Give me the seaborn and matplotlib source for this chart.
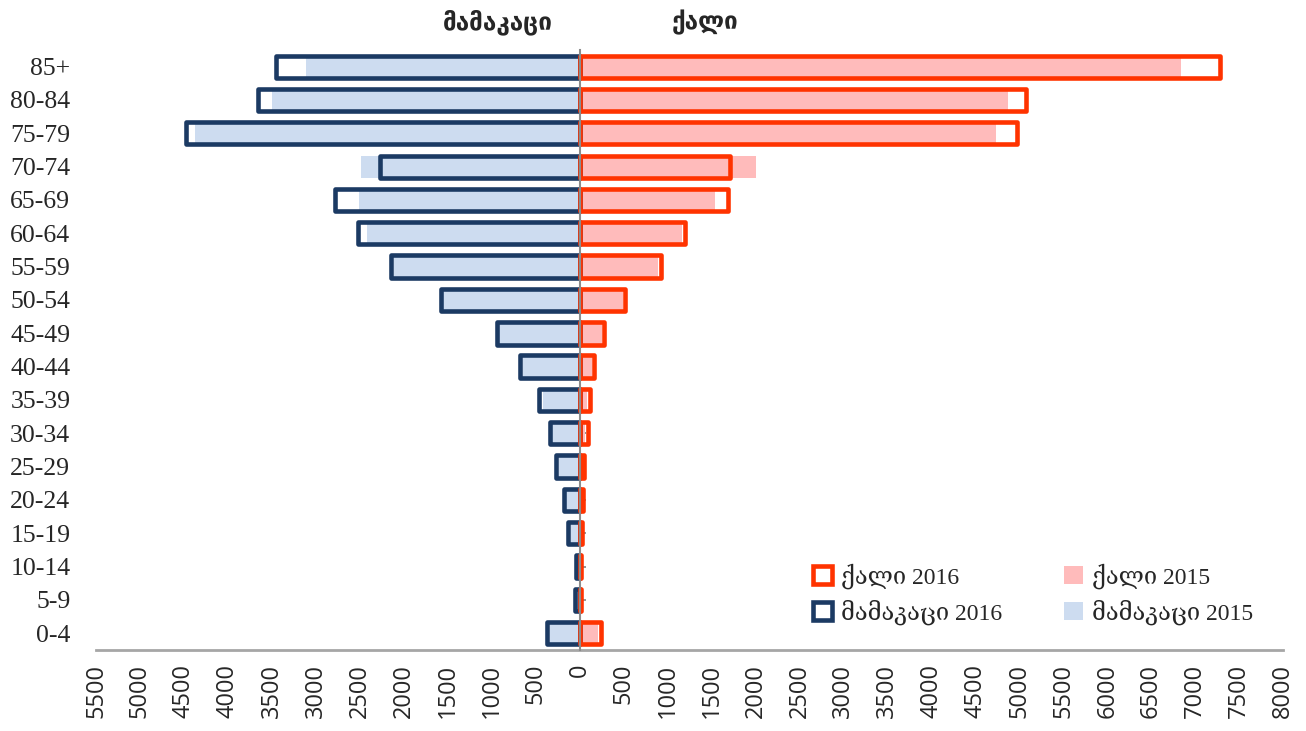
import numpy as np
import pandas as pd
import matplotlib
matplotlib.use("Agg")
import matplotlib.pyplot as plt
from matplotlib.patches import Patch
import seaborn as sns

age_groups = ['85+', '80-84', '75-79', '70-74', '65-69', '60-64', '55-59', '50-54',
              '45-49', '40-44', '35-39', '30-34', '25-29', '20-24', '15-19', '10-14',
              '5-9', '0-4']
male_2016 = [3453, 3657, 4476, 2270, 2783, 2521, 2146, 1576, 939, 678, 458, 340, 268, 177, 128, 41, 49, 367]
male_2015 = [3111, 3497, 4374, 2486, 2509, 2418, 2111, 1554, 916, 644, 420, 310, 238, 151, 98, 30, 40, 340]
female_2016 = [7283, 5072, 4970, 1712, 1683, 1195, 926, 520, 278, 164, 118, 92, 50, 42, 24, 20, 20, 243]
female_2015 = [6840, 4870, 4739, 2003, 1537, 1165, 888, 490, 251, 141, 84, 65, 24, 20, 15, 15, 15, 213]
x_ticks = list(range(-5500, 8001, 500))

label_male = 'მამაკაცი'
label_female = 'ქალი'

sns.set_theme(style='white')
plt.rcParams['font.family'] = ['Liberation Serif', 'DejaVu Serif']

df = pd.DataFrame({
    'age': age_groups,
    'm16': [-v for v in male_2016],
    'm15': [-v for v in male_2015],
    'f16': female_2016,
    'f15': female_2015,
})

C_M_EDGE = '#1b3a63'
C_M_FILL = '#cddcf0'
C_F_EDGE = '#ff3300'
C_F_FILL = '#ffbbbb'
BAR_H = 0.67
LW = 3.3

fig = plt.figure(figsize=(13.06, 7.31), dpi=100)
ax = fig.add_axes([96/1306, 1-650/731, (1283-96)/1306, (650-50)/731])

sns.barplot(data=df, x='m15', y='age', order=age_groups, color=C_M_FILL,
            width=BAR_H, orient='h', ax=ax, linewidth=0, saturation=1)
sns.barplot(data=df, x='f15', y='age', order=age_groups, color=C_F_FILL,
            width=BAR_H, orient='h', ax=ax, linewidth=0, saturation=1)
n_before = len(ax.patches)
sns.barplot(data=df, x='m16', y='age', order=age_groups, color=C_M_EDGE,
            width=BAR_H, orient='h', ax=ax, fill=False, linewidth=LW, saturation=1)
sns.barplot(data=df, x='f16', y='age', order=age_groups, color=C_F_EDGE,
            width=BAR_H, orient='h', ax=ax, fill=False, linewidth=LW, saturation=1)
for p in ax.patches[n_before:]:
    p.set_joinstyle('round')
    p.set_facecolor('none')
    p.set_zorder(3)

ax.set_xlim(-5500, 8000)
ax.set_ylim(len(age_groups) - 0.5, -0.5)
ax.set_xticks(x_ticks)
ax.set_xticklabels([str(abs(v)) for v in x_ticks], rotation=90,
                   family=['Open Sans', 'DejaVu Sans'], fontsize=17)
ax.tick_params(axis='x', length=0, pad=10)
ax.set_xlabel('')
ax.set_ylabel('')

for s in ['top', 'right']:
    ax.spines[s].set_visible(False)
ax.spines['bottom'].set_color('#a6a6a6')
ax.spines['bottom'].set_linewidth(2)
ax.spines['left'].set_position(('data', 0))
ax.spines['left'].set_color('#8c8c8c')
ax.spines['left'].set_linewidth(1.5)
ax.spines['left'].set_zorder(4)
ax.tick_params(axis='y', direction='in', length=4, width=1.3, color='#8c8c8c',
               labelleft=False, left=True)

sec = ax.secondary_yaxis('left')
sec.set_yticks(range(len(age_groups)))
sec.set_yticklabels(age_groups, fontsize=18.5)
sec.tick_params(length=0, pad=18.5)
sec.spines['left'].set_visible(False)

fig.text(498/1306, 1-22/731, label_male, ha='center', va='center',
         fontsize=17.5, fontweight='bold', family=['DejaVu Sans'])
fig.text(705/1306, 1-22/731, label_female, ha='center', va='center',
         fontsize=17.5, fontweight='bold', family=['DejaVu Sans'])

handles = [
    Patch(facecolor='white', edgecolor=C_F_EDGE, linewidth=LW, joinstyle='round'),
    Patch(facecolor='white', edgecolor=C_M_EDGE, linewidth=LW, joinstyle='round'),
    Patch(facecolor=C_F_FILL, edgecolor='none'),
    Patch(facecolor=C_M_FILL, edgecolor='none'),
]
labels = [f'{label_female} 2016', f'{label_male} 2016',
          f'{label_female} 2015', f'{label_male} 2015']
fig.legend(handles, labels, ncol=2, loc='center',
           bbox_to_anchor=(1033/1306, 1-594/731), bbox_transform=fig.transFigure,
           frameon=False, fontsize=17, handlelength=0.8, handleheight=0.8,
           handletextpad=0.4, columnspacing=2.6, labelspacing=0.45)

fig.savefig('out.png', dpi=100)
